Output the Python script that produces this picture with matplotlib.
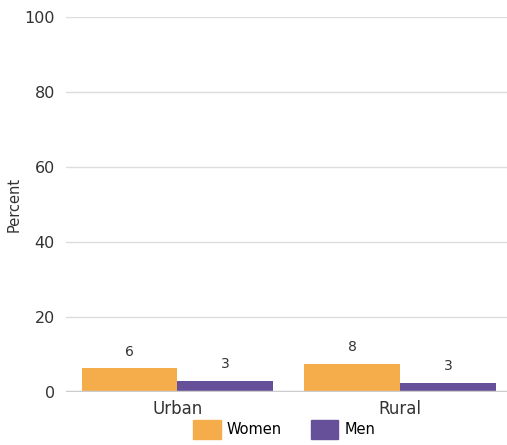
import numpy as np
import matplotlib
matplotlib.use('Agg')
import matplotlib.pyplot as plt
from matplotlib.patches import Patch

categories = ['Urban', 'Rural']
women = [6.3, 7.6]
men = [2.9, 2.5]
women_labels = ['6', '8']
men_labels = ['3', '3']

c_women = '#F5AD4B'
c_men = '#67509A'

fig = plt.figure(figsize=(5.07, 4.45), dpi=100)
ax = fig.add_axes([0.130, 0.119, 0.870, 0.843])

x = np.arange(len(categories))
w = 0.43
b1 = ax.bar(x - w / 2, women, w, color=c_women, zorder=3)
b2 = ax.bar(x + w / 2, men, w, color=c_men, zorder=3)

for bars, labs in ((b1, women_labels), (b2, men_labels)):
    for rect, lab in zip(bars, labs):
        ax.annotate(lab, (rect.get_x() + rect.get_width() / 2, rect.get_height()),
                    xytext=(0, 7), textcoords='offset points',
                    ha='center', va='bottom', fontsize=10, color='#333333')

ax.set_ylim(0, 100)
ax.set_xlim(-0.5, 1.48)
ax.set_yticks([0, 20, 40, 60, 80, 100])
ax.set_xticks(x)
ax.set_xticklabels(categories, fontsize=12)
ax.yaxis.grid(True, color='#dddddd', linewidth=1, zorder=0)
ax.axhline(0, color='#cccccc', linewidth=2.5, zorder=4)
for s in ax.spines.values():
    s.set_visible(False)
ax.tick_params(axis='both', length=0, colors='#333333')
ax.tick_params(axis='y', pad=8, labelsize=11.5)
ax.tick_params(axis='x', pad=6)
ax.set_ylabel('Percent', fontsize=10.5, color='#333333')
ax.yaxis.set_label_coords(-0.10, 0.5)

handles = [Patch(color=c_women, label='Women'), Patch(color=c_men, label='Men')]
fig.legend(handles=handles, loc='lower center', bbox_to_anchor=(0.56, -0.015), ncol=2,
           frameon=False, fontsize=10.5, handlelength=1.9, handleheight=1.6,
           handletextpad=0.4, columnspacing=2.0)

fig.savefig('out.png', dpi=100)
